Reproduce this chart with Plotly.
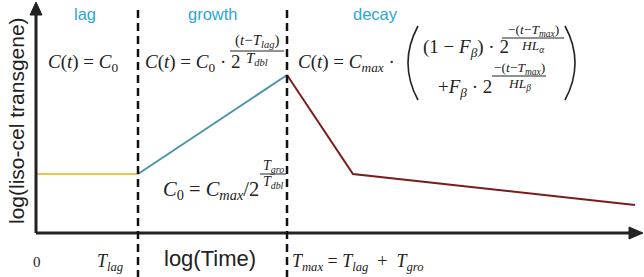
import plotly.graph_objects as go

# ---- schematic data (x: log time units from origin, y: log level units from baseline)
T_lag = 102
T_max = 251
lag_t = [0, T_lag]
lag_c = [59, 59]
growth_t = [T_lag, T_max]
growth_c = [59, 158]
decay_t = [T_max, 317, 599]
decay_c = [158, 59, 28]

phase_labels = ["lag", "growth", "decay"]

W, H = 644, 277
OX, OY = 36, 233  # pixel position of origin


def X(px):
    return px - OX


def Y(py):
    return OY - py


fig = go.Figure()
fig.add_trace(go.Scatter(x=lag_t, y=lag_c, mode="lines",
                         line=dict(color="#F3C440", width=2), hoverinfo="skip"))
fig.add_trace(go.Scatter(x=growth_t, y=growth_c, mode="lines",
                         line=dict(color="#4C93AD", width=2), hoverinfo="skip"))
fig.add_trace(go.Scatter(x=decay_t, y=decay_c, mode="lines",
                         line=dict(color="#7A1C1C", width=2), hoverinfo="skip"))

shapes = []
AX = "#222222"
# axes lines
shapes.append(dict(type="line", xref="x", yref="y", x0=0, y0=0, x1=0, y1=Y(13),
                   line=dict(color=AX, width=3)))
shapes.append(dict(type="line", xref="x", yref="y", x0=0, y0=0, x1=X(630), y1=0,
                   line=dict(color=AX, width=3)))
# arrow heads
shapes.append(dict(type="path", xref="x", yref="y",
                   path=f"M {X(30)} {Y(15)} L {X(36)} {Y(2)} L {X(42)} {Y(15)} Z",
                   fillcolor=AX, line=dict(color=AX, width=1)))
shapes.append(dict(type="path", xref="x", yref="y",
                   path=f"M {X(629)} {Y(227)} L {X(643)} {Y(233)} L {X(629)} {Y(239)} Z",
                   fillcolor=AX, line=dict(color=AX, width=1)))
# dashed phase boundaries
for tx in [T_lag, T_max]:
    shapes.append(dict(type="line", xref="x", yref="y", x0=tx, x1=tx, y0=Y(10), y1=Y(277),
                       line=dict(color="#111111", width=2.5, dash="8px,5px")))

ann = []
SERIF = "Liberation Serif"
SANS = "Liberation Sans"
EQ = 19


def txt(px, py, s, size=EQ, family=SERIF, color="#222222", xa="center", ya="middle", angle=0):
    ann.append(dict(x=X(px), y=Y(py), xref="x", yref="y", text=s, showarrow=False,
                    xanchor=xa, yanchor=ya, textangle=angle,
                    font=dict(family=family, size=size, color=color)))


def frac(cx, py_num, py_bar, py_den, num, den, half, size):
    txt(cx, py_num, num, size=size)
    txt(cx, py_den, den, size=size)
    shapes.append(dict(type="line", xref="x", yref="y", x0=X(cx - half), x1=X(cx + half),
                       y0=Y(py_bar), y1=Y(py_bar), line=dict(color="#222222", width=1)))


# phase labels
LBL = "#2AA6DC"
txt(85, 14, phase_labels[0], size=16.5, family=SANS, color=LBL)
txt(213, 14, phase_labels[1], size=16.5, family=SANS, color=LBL)
txt(375, 14, phase_labels[2], size=16.5, family=SANS, color=LBL)

# y axis title
txt(16, 121, "log(liso-cel transgene)", size=21, family=SANS, angle=-90)

# equations
txt(46, 63, "<i>C</i>(<i>t</i>) = <i>C</i><sub>0</sub>", xa="left")
txt(143, 63, "<i>C</i>(<i>t</i>) = <i>C</i><sub>0</sub> · 2", xa="left")
frac(257, 41, 51, 59, "(<i>t</i>−<i>T<sub>lag</sub></i>)", "<i>T<sub>dbl</sub></i>", 27, 15)

txt(296, 63, "<i>C</i>(<i>t</i>) = <i>C<sub>max</sub></i> ·", xa="left")
txt(421, 48, "(1 − <i>F<sub>β</sub></i>) · 2", xa="left")
frac(533, 30, 38, 46, "−(<i>t</i>−<i>T<sub>max</sub></i>)", "<i>HL<sub>α</sub></i>", 31, 13.5)
txt(436, 88, "+<i>F<sub>β</sub></i> · 2", xa="left")
frac(519, 68, 76, 84, "−(<i>t</i>−<i>T<sub>max</sub></i>)", "<i>HL<sub>β</sub></i>", 27, 13.5)
# big parentheses
shapes.append(dict(type="path", xref="x", yref="y",
                   path=f"M {X(418)} {Y(26)} Q {X(398)} {Y(63)} {X(418)} {Y(100)}",
                   line=dict(color="#222222", width=1.6)))
shapes.append(dict(type="path", xref="x", yref="y",
                   path=f"M {X(565)} {Y(26)} Q {X(585)} {Y(63)} {X(565)} {Y(100)}",
                   line=dict(color="#222222", width=1.6)))

txt(261, 190, "<i>C</i><sub>0</sub> = <i>C<sub>max</sub></i>/2", size=20.5, xa="right")
frac(273, 166, 174, 182, "<i>T<sub>gro</sub></i>", "<i>T<sub>dbl</sub></i>", 13, 14)

# x axis labels
txt(37, 262, "0", size=15)
txt(110, 262, "<i>T<sub>lag</sub></i>", size=18)
txt(210, 258, "log(Time)", size=22, family=SANS)
txt(290, 262, "<i>T<sub>max</sub></i> = <i>T<sub>lag</sub></i>  +  <i>T<sub>gro</sub></i>", size=18, xa="left")

fig.update_layout(
    width=W, height=H, autosize=False,
    margin=dict(l=0, r=0, t=0, b=0),
    paper_bgcolor="white", plot_bgcolor="white",
    showlegend=False,
    xaxis=dict(range=[-OX, W - OX], visible=False, fixedrange=True),
    yaxis=dict(range=[OY - H, OY], visible=False, fixedrange=True),
    shapes=shapes, annotations=ann,
)

fig.write_html("out.html", config={"displayModeBar": False},
               post_script="document.body.style.margin='0px';")
